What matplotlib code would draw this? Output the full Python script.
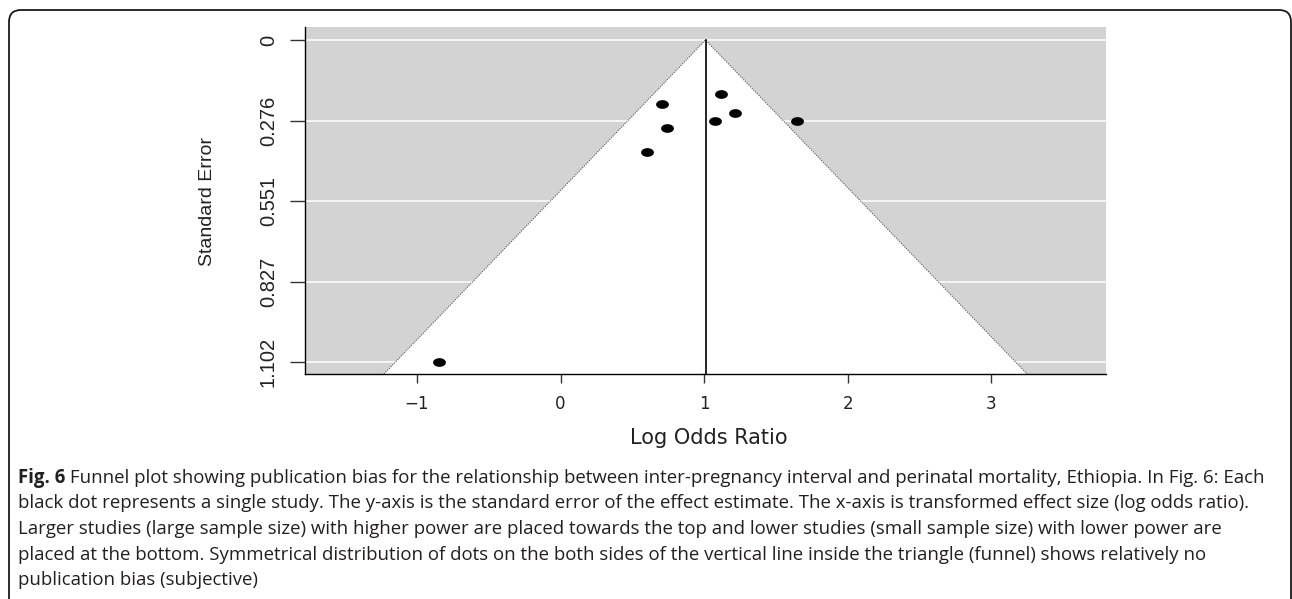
import numpy as np
import matplotlib
matplotlib.use('Agg')
import matplotlib.pyplot as plt
from matplotlib import font_manager
from matplotlib.patches import FancyBboxPatch, Polygon
from matplotlib.path import Path
from matplotlib.transforms import IdentityTransform

# ---------------- data ----------------
log_odds_ratio = [0.705, 0.740, 0.605, 1.116, 1.214, 1.079, 1.646, -0.845]
standard_error = [0.220, 0.300, 0.383, 0.186, 0.251, 0.278, 0.278, 1.102]
pooled_estimate = 1.01
y_ticks = [0.0, 0.2755, 0.551, 0.8265, 1.102]
y_tick_labels = ['0', '0.276', '0.551', '0.827', '1.102']
x_ticks = [-1, 0, 1, 2, 3]
x_tick_labels = ['\u22121', '0', '1', '2', '3']
x_label = 'Log Odds Ratio'
y_label = 'Standard Error'
caption_bold = 'Fig. 6'
caption_lines = [
    ' Funnel plot showing publication bias for the relationship between inter-pregnancy interval and perinatal mortality, Ethiopia. In Fig. 6: Each',
    'black dot represents a single study. The y-axis is the standard error of the effect estimate. The x-axis is transformed effect size (log odds ratio).',
    'Larger studies (large sample size) with higher power are placed towards the top and lower studies (small sample size) with lower power are',
    'placed at the bottom. Symmetrical distribution of dots on the both sides of the vertical line inside the triangle (funnel) shows relatively no',
    'publication bias (subjective)',
]


def pick_font(names):
    for n in names:
        try:
            font_manager.findfont(font_manager.FontProperties(family=n), fallback_to_default=False)
            return n
        except Exception:
            continue
    return 'DejaVu Sans'


narrow_font = pick_font(['Liberation Sans Narrow', 'Liberation Sans'])
wide_font = pick_font(['DejaVu Sans'])
caption_font = pick_font(['Open Sans', 'Noto Sans'])

W, H = 1292, 599
fig = plt.figure(figsize=(W / 100, H / 100), dpi=100)
fig.patch.set_facecolor('white')

# axes placement (pixels)
ax_l, ax_r, ax_t, ax_b = 305, 1106, 27, 374
ax = fig.add_axes([ax_l / W, 1 - ax_b / H, (ax_r - ax_l) / W, (ax_b - ax_t) / H])
ax.set_facecolor('#d3d3d3')

xlim = (-1.78, 3.80)
ylim_top, ylim_bot = -0.0445, 1.143
ax.set_xlim(*xlim)
ax.set_ylim(ylim_bot, ylim_top)

# grid lines (white) at y ticks
for yt in y_ticks:
    ax.axhline(yt, color='white', lw=1.1, zorder=1)

# funnel region
half_width = 1.96 * ylim_bot
funnel = Polygon([(pooled_estimate - half_width, ylim_bot), (pooled_estimate, 0.0),
                  (pooled_estimate + half_width, ylim_bot)], closed=True,
                 facecolor='white', edgecolor='none', zorder=2)
ax.add_patch(funnel)
ax.plot([pooled_estimate - half_width, pooled_estimate, pooled_estimate + half_width],
        [ylim_bot, 0.0, ylim_bot], color='#555555', lw=0.8, ls=(0, (1, 1.2)), zorder=3)
ax.plot([pooled_estimate, pooled_estimate], [0.0, ylim_bot], color='black', lw=1.2, zorder=3)

# elliptical dots
t = np.linspace(0, 2 * np.pi, 60)
ell = Path(np.column_stack([np.cos(t), 0.64 * np.sin(t)]), closed=True)
ax.plot(log_odds_ratio, standard_error, ls='none', marker=ell, markersize=8.2,
        color='black', zorder=4)

# spines
for s in ['top', 'right']:
    ax.spines[s].set_visible(False)
for s in ['left', 'bottom']:
    ax.spines[s].set_linewidth(1.0)
    ax.spines[s].set_color('black')
    ax.spines[s].set_zorder(5)

ax.set_yticks(y_ticks)
ax.set_yticklabels(y_tick_labels, rotation=90, va='center', ha='center',
                   fontfamily=narrow_font, fontsize=14.5, color='#222222')
ax.set_xticks(x_ticks)
ax.set_xticklabels(x_tick_labels, fontfamily=wide_font, fontsize=12, color='#222222')
ax.tick_params(axis='y', length=10.8, width=1.0, pad=15.5, color='#333333')
ax.tick_params(axis='x', length=6.5, width=1.0, pad=8.5, color='#333333')

ax.set_ylabel(y_label, fontfamily=narrow_font, fontsize=14, color='#222222', va='center')
ax.yaxis.set_label_coords((208 - ax_l) / (ax_r - ax_l), (ax_b - 201) / (ax_b - ax_t))
ax.set_xlabel(x_label, fontfamily=wide_font, fontsize=15, color='#222222', va='center')
ax.xaxis.set_label_coords((709 - ax_l) / (ax_r - ax_l), (ax_b - 438) / (ax_b - ax_t))

# outer rounded frame
frame = FancyBboxPatch((9, -30), 1282, H - 10 + 30, boxstyle='round,pad=0,rounding_size=12',
                       transform=IdentityTransform(), facecolor='none', edgecolor='#1a1a1a',
                       lw=1.3)
fig.patches.append(frame)
frame.set_figure(fig)

# caption
renderer = fig.canvas.get_renderer()
probe = fig.text(0, 0, caption_lines[1], fontfamily=caption_font, fontsize=12)
w12 = probe.get_window_extent(renderer).width
probe.remove()
cap_size = 12 * (1242 - 18) / w12

x0 = 18 / W
base0 = 483
spacing = 25.5
tb = fig.text(x0, 1 - base0 / H, caption_bold, fontfamily=caption_font, fontweight='bold',
              fontsize=cap_size, color='#231f20', va='baseline', ha='left')
bx = tb.get_window_extent(renderer).x1
for i, line in enumerate(caption_lines):
    xs = (bx / W) if i == 0 else x0
    fig.text(xs, 1 - (base0 + i * spacing) / H, line, fontfamily=caption_font,
             fontsize=cap_size, color='#231f20', va='baseline', ha='left')

fig.savefig('out.png', dpi=100)
